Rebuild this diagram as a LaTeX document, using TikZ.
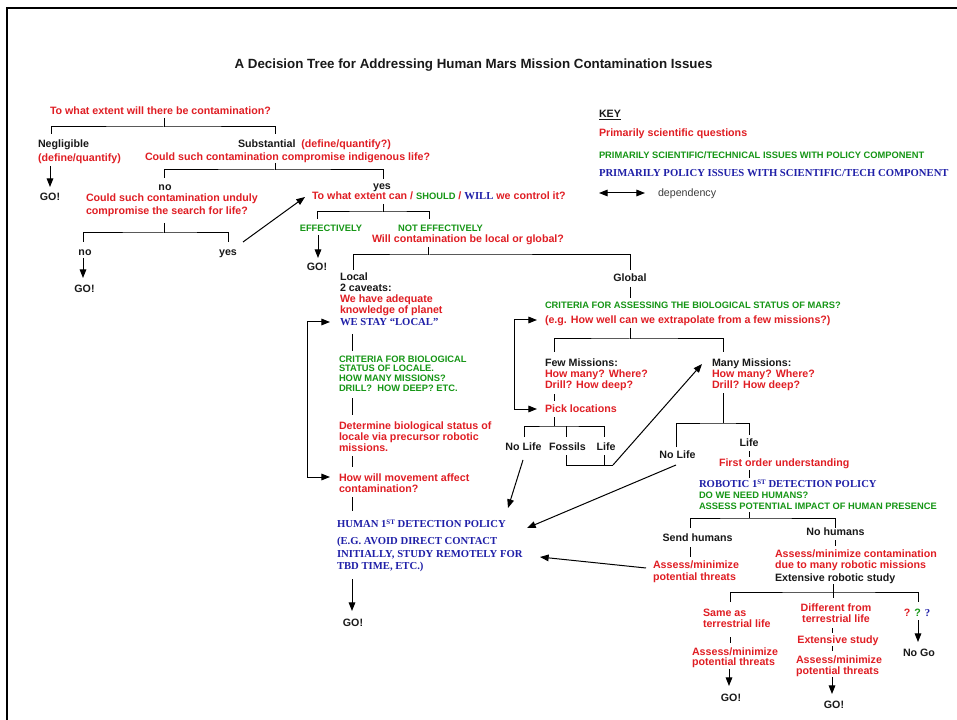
\documentclass[tikz,border=0pt]{standalone}
\usepackage{fontspec}
\setsansfont{Liberation Sans}
\setmainfont{Liberation Serif}
\usetikzlibrary{arrows.meta}
\definecolor{myred}{RGB}{224,30,36}
\definecolor{mygreen}{RGB}{22,150,22}
\definecolor{myblue}{RGB}{32,32,168}
\definecolor{myblack}{RGB}{25,25,25}
\definecolor{mygray}{RGB}{60,60,60}
\newcommand\myST{\raisebox{2.6pt}{\fontsize{5.2}{5}\selectfont ST}}
\newcommand\mysf[2]{\sffamily\bfseries\fontsize{#1}{#2}\selectfont\lineskiplimit=-20pt\relax}
\newcommand\myrm[2]{\rmfamily\bfseries\fontsize{#1}{#2}\selectfont\lineskiplimit=-20pt\relax}
\tikzset{
  tx/.style={inner sep=0pt,outer sep=0pt,anchor=base west,align=left},
  rtx/.style={tx,text=myred,font={\mysf{8}{#1}}},
  rtx/.default=8.2,
  ktx/.style={tx,text=myblack,font={\mysf{8}{#1}}},
  ktx/.default=8.6,
  gtx/.style={tx,text=mygreen,font={\mysf{7}{#1}}},
  gtx/.default=8.2,
  btx/.style={tx,text=myblue,font={\myrm{8}{#1}}},
  btx/.default=9.5,
  ln/.style={line width=0.75pt,draw=black},
  arr/.style={ln,-{Triangle[length=6.5pt,width=5pt]}},
  dep/.style={ln,{Triangle[length=6.5pt,width=5pt]}-{Triangle[length=6.5pt,width=5pt]}}
}
\begin{document}
\begin{tikzpicture}[x=0.75pt,y=-0.75pt]
\useasboundingbox (0,0) rectangle (957,720);
\fill[white] (0,0) rectangle (957,720);
\draw[line width=2pt] (7,722) -- (7,8) -- (959,8);

% ---------- text (multi-line nodes are placed by the baseline of their last line) ----------
\node[ktx,anchor=base,font={\mysf{10}{12}}] (title) at (473.5,68.5) {A Decision Tree for Addressing Human Mars Mission Contamination Issues};
\node[rtx] (q1) at (50,114.5) {To what extent will there be contamination?};
\node[ktx] (negl) at (38,148) {Negligible};
\node[rtx] (neglq) at (38,162) {(define/quantify)};
\node[ktx,anchor=base] (go1) at (50,201) {GO!};
\node[ktx] (subst) at (238,148) {Substantial\ \ {\color{myred}(define/quantify?)}};
\node[rtx] (q2) at (145,161) {Could such contamination compromise indigenous life?};
\node[ktx,anchor=base] (no1) at (165,190.5) {no};
\node[ktx,anchor=base] (yes1) at (382,189.5) {yes};
\node[rtx=9.75] (q3) at (86,214.5) {Could such contamination unduly\\compromise the search for life?};
\node[ktx,anchor=base] (no2) at (85,255.5) {no};
\node[ktx,anchor=base] (yes2) at (228,255.5) {yes};
\node[ktx,anchor=base] (go2) at (84.5,293) {GO!};
\node[rtx] (q4) at (312,200) {To what extent can / {\color{mygreen}\fontsize{7}{8}\selectfont SHOULD} / {\color{myblue}\rmfamily WILL} we control it?};
\node[gtx,anchor=base] (eff) at (331,231.5) {EFFECTIVELY};
\node[gtx,anchor=base] (noteff) at (440.5,231.5) {NOT EFFECTIVELY};
\node[rtx] (q5) at (372,243) {Will contamination be local or global?};
\node[ktx,anchor=base] (go3) at (317,271) {GO!};

\node[ktx=8.6] (local) at (340,291.5) {Local\\2 caveats:};
\node[rtx=8.25] (adeq) at (340,313.5) {We have adequate\\knowledge of planet};
\node[btx] (stay) at (340,325.5) {WE STAY “LOCAL”};
\node[gtx=7.3] (crit1) at (339,391.2) {CRITERIA FOR BIOLOGICAL\\STATUS OF LOCALE.\\HOW MANY MISSIONS?\\DRILL?\ \ HOW DEEP? ETC.};
\node[rtx=8.2] (determ) at (339,451.4) {Determine biological status of\\locale via precursor robotic\\missions.};
\node[rtx=8.75] (move) at (339,492.7) {How will movement affect\\contamination?};
\node[btx] (hum) at (337,527.5) {HUMAN 1\myST\ DETECTION POLICY};
\node[btx=9.5] (hum2) at (337,569.8) {(E.G. AVOID DIRECT CONTACT\\INITIALLY, STUDY REMOTELY FOR\\TBD TIME, ETC.)};
\node[ktx,anchor=base] (go6) at (353,626) {GO!};

\node[ktx,anchor=base] (global) at (630,281.5) {Global};
\node[gtx] (crit2) at (545,309) {CRITERIA FOR ASSESSING THE BIOLOGICAL STATUS OF MARS?};
\node[rtx] (eg) at (545,323.5) {(e.g. How well can we extrapolate from a few missions?)};
\node[ktx] (few) at (545,366.5) {Few Missions:};
\node[rtx=8.1] (fewq) at (545,388.3) {How many? Where?\\Drill? How deep?};
\node[rtx] (pick) at (545,412.5) {Pick locations};
\node[ktx,anchor=base] (nl1) at (523.5,450.5) {No Life};
\node[ktx,anchor=base] (foss) at (567.5,450) {Fossils};
\node[ktx,anchor=base] (life1) at (606,450) {Life};
\node[ktx] (many) at (712,366.5) {Many Missions:};
\node[rtx=8.1] (manyq) at (712,388.3) {How many? Where?\\Drill? How deep?};
\node[ktx,anchor=base] (nl2) at (677.5,458) {No Life};
\node[ktx,anchor=base] (life2) at (749,446.5) {Life};
\node[rtx] (fou) at (719,466.5) {First order understanding};
\node[btx] (robot) at (699,487.5) {ROBOTIC 1\myST\ DETECTION POLICY};
\node[gtx=8.25] (need) at (699,509.5) {DO WE NEED HUMANS?\\ASSESS POTENTIAL IMPACT OF HUMAN PRESENCE};
\node[ktx,anchor=base] (send) at (697.5,541.5) {Send humans};
\node[ktx,anchor=base] (nohum) at (835.5,535.5) {No humans};
\node[rtx=8.75] (ass1) at (653,580.2) {Assess/minimize\\potential threats};
\node[rtx=8] (ass2) at (775,568.2) {Assess/minimize contamination\\due to many robotic missions};
\node[ktx] (extrob) at (775,581.5) {Extensive robotic study};
\node[rtx=8.25] (same) at (703,627.5) {Same as\\terrestrial life};
\node[rtx=7.6] (ass3) at (692,665.6) {Assess/minimize\\potential threats};
\node[ktx,anchor=base] (go4) at (731,701.5) {GO!};
\node[rtx=8,anchor=base,align=center] (diff) at (836,622.2) {Different from\\terrestrial life};
\node[rtx,anchor=base] (extst) at (838,643.5) {Extensive study};
\node[rtx=8] (ass4) at (796,674.2) {Assess/minimize\\potential threats};
\node[ktx,anchor=base] (go5) at (834,708.5) {GO!};
\node[ktx,anchor=base] (qqq) at (917,616.5) {{\color{myred}?} {\color{mygreen}?} {\color{myblue}\rmfamily ?}};
\node[ktx,anchor=base] (nogo) at (919,656.5) {No Go};

% key
\node[ktx] (key) at (599,117.5) {\underline{KEY}};
\node[rtx] (k1) at (599,136.5) {Primarily scientific questions};
\node[gtx] (k2) at (599,158.5) {PRIMARILY SCIENTIFIC/TECHNICAL ISSUES WITH POLICY COMPONENT};
\node[btx] (k3) at (599,176.5) {PRIMARILY POLICY ISSUES WITH SCIENTIFIC/TECH COMPONENT};
\node[tx,text=mygray,font={\sffamily\fontsize{8}{9}\selectfont}] (k4) at (658,196.5) {dependency};
\coordinate (k4a) at (599,193); \coordinate (k4b) at (645,193);
\draw[dep] (k4a) -- (k4b);

% ---------- brackets ----------
\coordinate (b1s) at (164,118); \coordinate (b1m) at (164,127); \coordinate (b1l) at (51,134); \coordinate (b1r) at (275,134);
\coordinate (b2s) at (275,163); \coordinate (b2m) at (275,170); \coordinate (b2l) at (164,178); \coordinate (b2r) at (383,179);
\coordinate (b3s) at (164,223); \coordinate (b3m) at (164,233); \coordinate (b3l) at (83,242); \coordinate (b3r) at (228,242);
\coordinate (b4s) at (383,204); \coordinate (b4m) at (383,212); \coordinate (b4l) at (317,219); \coordinate (b4r) at (429,219);
\coordinate (b5s) at (428,247); \coordinate (b5m) at (428,255); \coordinate (b5l) at (353,270); \coordinate (b5r) at (630,270);
\coordinate (b6s) at (630,328); \coordinate (b6m) at (630,339); \coordinate (b6l) at (554,352); \coordinate (b6r) at (723,352);
\coordinate (b7s) at (554,417); \coordinate (b7m) at (554,426); \coordinate (b7l) at (524,437); \coordinate (b7r) at (604,437);
\coordinate (b7c) at (566,426); \coordinate (b7d) at (566,437);
\coordinate (b8s) at (723,393); \coordinate (b8m) at (723,423); \coordinate (b8l) at (676,447); \coordinate (b8r) at (749,435);
\coordinate (b9s) at (749,512); \coordinate (b9m) at (749,518); \coordinate (b9l) at (690,528); \coordinate (b9r) at (835,528);
\coordinate (b10s) at (833,584); \coordinate (b10m) at (833,592); \coordinate (b10l) at (730,602); \coordinate (b10r) at (918,602);
\coordinate (b10d) at (833,598);
\foreach \b in {b1,b2,b3,b4,b5,b6,b7,b8,b9,b10}{
  \draw[ln] (\b s) -- (\b m);
  \draw[ln] (\b l) |- (\b m) -| (\b r);
}
\draw[ln] (b7c) -- (b7d);
\draw[ln] (b10m) -- (b10d);

% ---------- plain links ----------
\coordinate (l1a) at (352,334); \coordinate (l1b) at (352,351);
\coordinate (l2a) at (352,398); \coordinate (l2b) at (352,415);
\coordinate (l3a) at (352,456); \coordinate (l3b) at (352,467);
\coordinate (l4a) at (352,497); \coordinate (l4b) at (352,511);
\coordinate (l5a) at (630,287); \coordinate (l5b) at (630,298);
\coordinate (l6a) at (554,394); \coordinate (l6b) at (554,401);
\coordinate (l7a) at (749,451); \coordinate (l7b) at (749,457);
\coordinate (l8a) at (749,470); \coordinate (l8b) at (749,478);
\coordinate (l9a) at (690,547); \coordinate (l9b) at (690,557);
\coordinate (l10a) at (835,540); \coordinate (l10b) at (835,546);
\coordinate (l11a) at (730,637); \coordinate (l11b) at (730,643);
\coordinate (l12a) at (832,628); \coordinate (l12b) at (832,633);
\coordinate (l13a) at (832,646); \coordinate (l13b) at (832,651);
\foreach \l in {l1,l2,l3,l4,l5,l6,l7,l8,l9,l10,l11,l12,l13}{
  \draw[ln] (\l a) -- (\l b);
}
\coordinate (fa) at (566,455); \coordinate (fb) at (566,465); \coordinate (fc) at (613,465);
\coordinate (fd) at (604,455); \coordinate (fe) at (604,465);
\draw[ln] (fa) -- (fb) -- (fc);
\draw[ln] (fd) -- (fe);

% ---------- arrows ----------
\coordinate (a1a) at (50,166);  \coordinate (a1b) at (50,187);
\coordinate (a2a) at (83,258);  \coordinate (a2b) at (83,278);
\coordinate (a3a) at (243,242); \coordinate (a3b) at (305,197);
\coordinate (a4a) at (318,235); \coordinate (a4b) at (318,258);
\coordinate (a5a) at (352,579); \coordinate (a5b) at (352,611);
\coordinate (a6b) at (702,364);
\coordinate (a7a) at (523,460); \coordinate (a7b) at (508,508);
\coordinate (a8a) at (676,465); \coordinate (a8b) at (527,528);
\coordinate (a9a) at (646,568); \coordinate (a9b) at (540,557);
\coordinate (a10a) at (729,669); \coordinate (a10b) at (729,686);
\coordinate (a11a) at (832,677); \coordinate (a11b) at (832,694);
\coordinate (a12a) at (918,620); \coordinate (a12b) at (918,642);
\foreach \a in {a1,a2,a3,a4,a5,a7,a8,a9,a10,a11,a12}{
  \draw[arr] (\a a) -- (\a b);
}
\draw[arr] (fc) -- (a6b);

% ---------- dependency arrows ----------
\coordinate (d1a) at (330,322); \coordinate (d1b) at (307,322); \coordinate (d1c) at (307,477); \coordinate (d1d) at (330,477);
\coordinate (d2a) at (537,320); \coordinate (d2b) at (514,320); \coordinate (d2c) at (514,409); \coordinate (d2d) at (537,409);
\draw[dep] (d1a) -- (d1b) -- (d1c) -- (d1d);
\draw[dep] (d2a) -- (d2b) -- (d2c) -- (d2d);
\end{tikzpicture}
\end{document}
